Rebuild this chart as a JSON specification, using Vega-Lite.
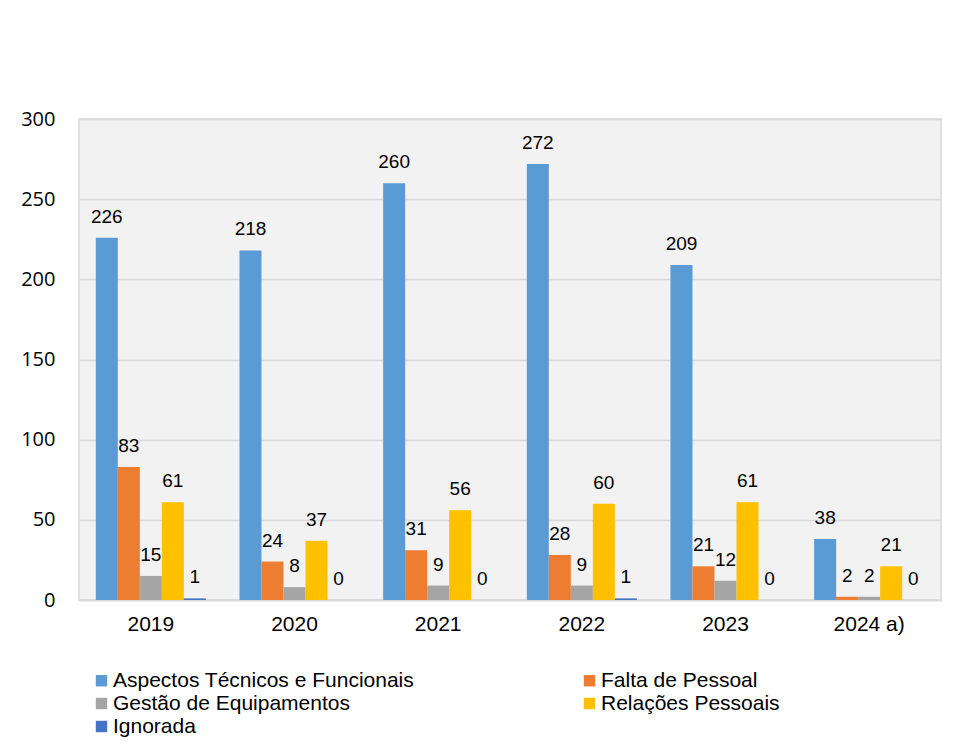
{
  "$schema": "https://vega.github.io/schema/vega-lite/v6.json",
  "autosize": "none",
  "padding": {"left": 79, "top": 119, "right": 24, "bottom": 152},
  "width": 862,
  "height": 481,
  "background": "#ffffff",
  "config": {
    "view": {"fill": "#f2f2f2", "stroke": "#d9d9d9", "strokeWidth": 1.5},
    "font": "Liberation Sans"
  },
  "data": {
    "values": [
      {"ano": "2019", "motivo": "Aspectos Técnicos e Funcionais", "n": 226},
      {"ano": "2019", "motivo": "Falta de Pessoal", "n": 83},
      {"ano": "2019", "motivo": "Gestão de Equipamentos", "n": 15},
      {"ano": "2019", "motivo": "Relações Pessoais", "n": 61},
      {"ano": "2019", "motivo": "Ignorada", "n": 1},
      {"ano": "2020", "motivo": "Aspectos Técnicos e Funcionais", "n": 218},
      {"ano": "2020", "motivo": "Falta de Pessoal", "n": 24},
      {"ano": "2020", "motivo": "Gestão de Equipamentos", "n": 8},
      {"ano": "2020", "motivo": "Relações Pessoais", "n": 37},
      {"ano": "2020", "motivo": "Ignorada", "n": 0},
      {"ano": "2021", "motivo": "Aspectos Técnicos e Funcionais", "n": 260},
      {"ano": "2021", "motivo": "Falta de Pessoal", "n": 31},
      {"ano": "2021", "motivo": "Gestão de Equipamentos", "n": 9},
      {"ano": "2021", "motivo": "Relações Pessoais", "n": 56},
      {"ano": "2021", "motivo": "Ignorada", "n": 0},
      {"ano": "2022", "motivo": "Aspectos Técnicos e Funcionais", "n": 272},
      {"ano": "2022", "motivo": "Falta de Pessoal", "n": 28},
      {"ano": "2022", "motivo": "Gestão de Equipamentos", "n": 9},
      {"ano": "2022", "motivo": "Relações Pessoais", "n": 60},
      {"ano": "2022", "motivo": "Ignorada", "n": 1},
      {"ano": "2023", "motivo": "Aspectos Técnicos e Funcionais", "n": 209},
      {"ano": "2023", "motivo": "Falta de Pessoal", "n": 21},
      {"ano": "2023", "motivo": "Gestão de Equipamentos", "n": 12},
      {"ano": "2023", "motivo": "Relações Pessoais", "n": 61},
      {"ano": "2023", "motivo": "Ignorada", "n": 0},
      {"ano": "2024 a)", "motivo": "Aspectos Técnicos e Funcionais", "n": 38},
      {"ano": "2024 a)", "motivo": "Falta de Pessoal", "n": 2},
      {"ano": "2024 a)", "motivo": "Gestão de Equipamentos", "n": 2},
      {"ano": "2024 a)", "motivo": "Relações Pessoais", "n": 21},
      {"ano": "2024 a)", "motivo": "Ignorada", "n": 0}
    ]
  },
  "encoding": {
    "x": {
      "field": "ano",
      "type": "nominal",
      "sort": null,
      "scale": {"paddingInner": 0.234, "paddingOuter": 0.117},
      "axis": {
        "title": null,
        "labelAngle": 0,
        "labelFontSize": 21,
        "labelColor": "#000000",
        "labelPadding": 13,
        "ticks": false,
        "domainColor": "#d9d9d9",
        "domainWidth": 2
      }
    },
    "xOffset": {
      "field": "motivo",
      "type": "nominal",
      "sort": ["Aspectos Técnicos e Funcionais", "Falta de Pessoal", "Gestão de Equipamentos", "Relações Pessoais", "Ignorada"],
      "scale": {"paddingInner": 0, "paddingOuter": 0}
    },
    "y": {
      "field": "n",
      "type": "quantitative",
      "scale": {"domain": [0, 300]},
      "axis": {
        "title": null,
        "values": [0, 50, 100, 150, 200, 250, 300],
        "labelFont": "Open Sans",
        "labelFontSize": 20,
        "labelColor": "#000000",
        "labelPadding": 24,
        "ticks": false,
        "domain": false,
        "gridColor": "#d9d9d9",
        "gridWidth": 1.5
      }
    }
  },
  "layer": [
    {
      "mark": {"type": "bar"},
      "encoding": {
        "color": {
          "field": "motivo",
          "type": "nominal",
          "sort": ["Aspectos Técnicos e Funcionais", "Falta de Pessoal", "Gestão de Equipamentos", "Relações Pessoais", "Ignorada"],
          "scale": {
            "domain": ["Aspectos Técnicos e Funcionais", "Falta de Pessoal", "Gestão de Equipamentos", "Relações Pessoais", "Ignorada"],
            "range": ["#5b9bd5", "#ed7d31", "#a5a5a5", "#ffc000", "#4472c4"]
          },
          "legend": {
            "title": null,
            "orient": "none",
            "legendX": 12,
            "legendY": 551,
            "direction": "horizontal",
            "columns": 2,
            "gridAlign": "all",
            "columnPadding": 164,
            "rowPadding": 1,
            "symbolType": "square",
            "symbolSize": 130,
            "symbolStrokeWidth": 0,
            "symbolOffset": 0,
            "labelOffset": 1,
            "labelFontSize": 21,
            "labelColor": "#000000",
            "labelLimit": 400
          }
        }
      }
    },
    {
      "mark": {"type": "text", "dy": -21, "baseline": "middle", "fontSize": 19, "color": "#000000"},
      "encoding": {
        "text": {"field": "n", "type": "quantitative"}
      }
    }
  ]
}
